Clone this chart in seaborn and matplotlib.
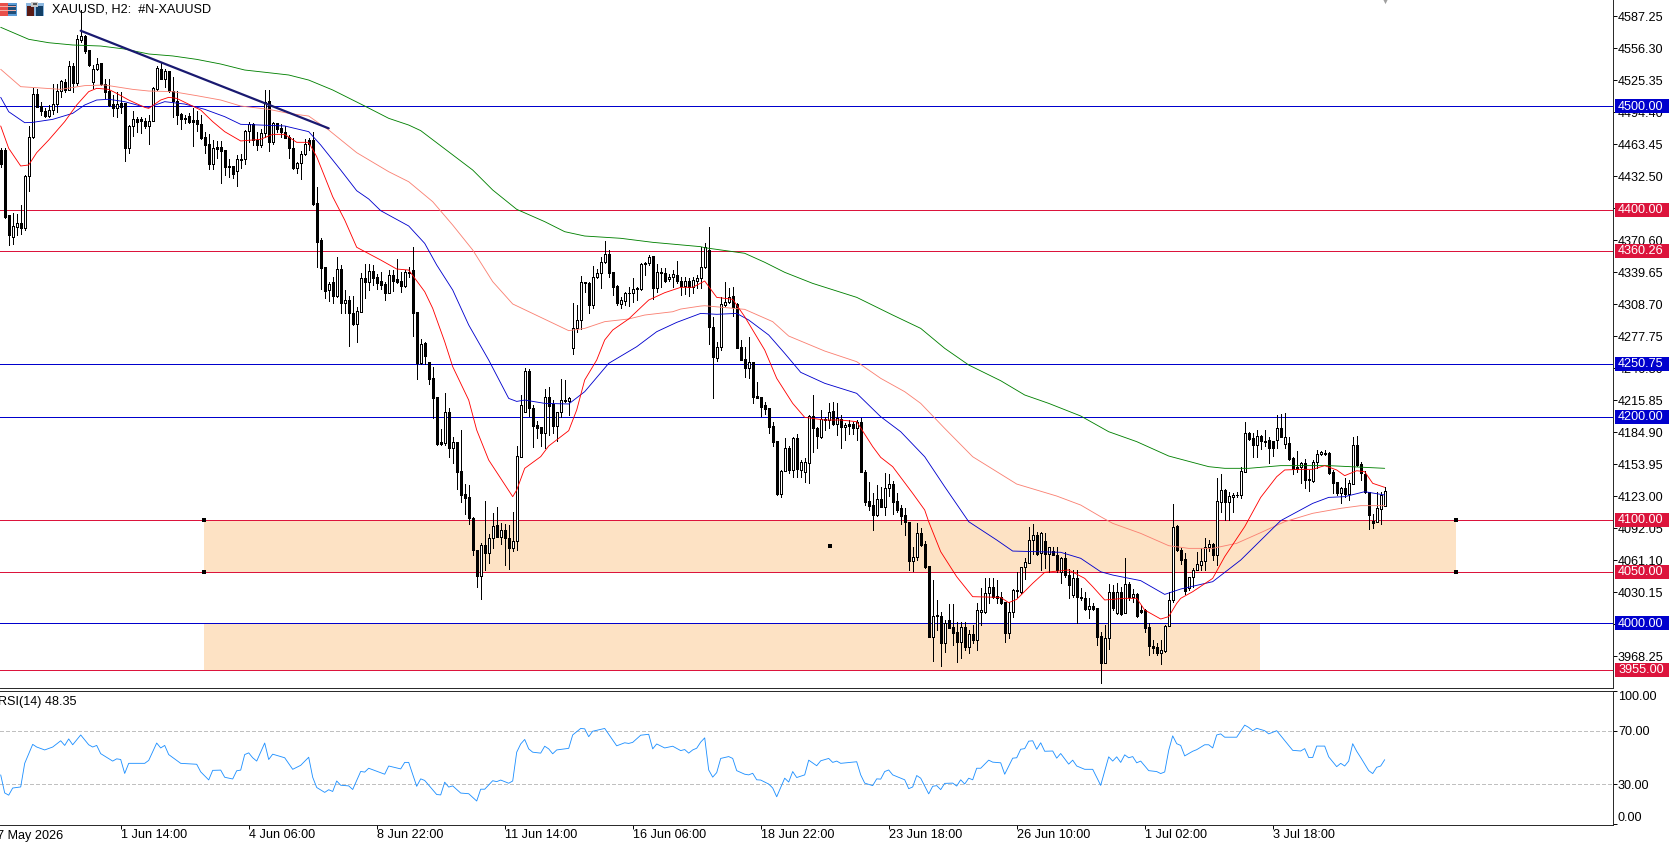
import numpy as np
import matplotlib
matplotlib.use("Agg")
import matplotlib.pyplot as plt
from matplotlib.patches import Rectangle
from matplotlib.transforms import blended_transform_factory
import seaborn as sns

# --- XAUUSD two-hour candles -------------------------------------------------
opens = [4457.8,4457.8,4394.9,4373.3,4383.6,4386.9,4382.7,4432.6,4470,4511.6,
4500.3,4495.8,4491,4496.4,4501.9,4515.1,4523.5,4515.8,4539,4522.9,
4564.1,4568,4554.5,4523.8,4535.8,4541.6,4521.6,4515.1,4502.2,4498,
4503.5,4502.9,4459.4,4481,4487.7,4487.4,4485.8,4481,4486.1,4516.4,
4535.8,4526.4,4534.1,4515.1,4505.5,4492.6,4488.4,4491,4486.8,4486.8,
4482.6,4470.7,4463.2,4443.9,4461,4461,4457.8,4442.6,4442.6,4437.8,
4449,4449,4476.1,4482.9,4467.4,4462.6,4473.9,4505.1,4465.8,4483.6,
4478.7,4474.8,4470.7,4459.4,4440.7,4444.9,4453.6,4467.4,4467.4,4406.2,
4370.7,4344.3,4322.4,4330.5,4316.9,4342.4,4310.1,4312.7,4299.8,4289.2,
4301.5,4333.7,4330.5,4340.8,4334.6,4331.1,4328.2,4319.8,4336.9,4332.7,
4331.1,4326.3,4339.2,4341.7,4301.5,4251.5,4270.8,4252.5,4237,4218.6,
4175.1,4174.1,4204.1,4169.3,4175.8,4147.4,4125.1,4121.9,4101.6,4071,
4046.2,4075.8,4067.8,4082.3,4095.2,4083.9,4090.3,4082.3,4073.3,4080,
4161.3,4204.1,4244.1,4208,4191.9,4189.6,4183.8,4219.3,4211.8,4191.2,
4204.1,4215.4,4215.4,4266.6,4285.3,4293.4,4329.8,4329.5,4307.9,4334.6,
4338.5,4349.2,4357.2,4339.5,4326.3,4308.5,4311.8,4319.2,4319.2,4324,
4323.4,4347.2,4348.8,4355.3,4324,4340.1,4338.5,4332.7,4335.3,4336.9,
4331.4,4326.6,4331.4,4325,4331.4,4333.7,4344.3,4361.1,4287,4257,
4267,4307.9,4311.1,4316.6,4308.5,4267.6,4255.4,4246.7,4252.5,4219.9,
4218.6,4211.2,4208,4190.9,4176.7,4125.2,4147.7,4170,4148.4,4179.6,
4148.4,4146.8,4155.4,4200.9,4188.6,4180.6,4196.7,4196.7,4205.4,4192.8,
4197.3,4189.6,4192.5,4192.8,4189.3,4194.4,4146.8,4118.4,4114.5,4104.8,
4120.3,4112.9,4130.6,4134.8,4118.4,4111.3,4104.8,4098.4,4060.7,4064.6,
4087.1,4076.8,4055.5,3987.2,4008.2,4007.2,3981.4,4003.3,3996.2,3991.7,
3982.4,3996.9,3976.9,3989.8,3984,4011.4,4011.4,4029.1,4035.6,4026.8,
4025.9,4021,3990.4,4011.4,4031,4030.7,4054.2,4058.8,4080.7,4085.5,
4067.8,4079.7,4066.8,4070.4,4066.2,4050.1,4063,4046.8,4027.5,4043.6,
4025.9,4024.3,4013.6,4017.2,4014.6,3987.8,3962,3986.2,4030,4009.8,
4030.7,4009.8,4038.1,4025.2,4028.1,4013,4013,3996.2,3978.5,3977.6,
3971.7,3973.7,3997.8,4022.6,4094.2,4071,4062.3,4034,4044.6,4051.7,
4056.5,4060.7,4073.6,4076.8,4066.5,4117.7,4129,4117.7,4122.6,4123.9,
4124.2,4146.8,4184.4,4179,4172.5,4181.2,4175.8,4177.4,4176.4,4177.4,
4189.3,4173.5,4174.8,4160.3,4150.9,4150.9,4154.8,4139.7,4138,4155.8,
4163.5,4164.5,4165.1,4146.8,4136.4,4125.8,4131.3,4125.2,4134.8,4172.5,
4154.2,4144.5,4127.4,4099.4,4098.4,4110.6,4113.9]

highs = [4459.4,4459.4,4394.9,4396.5,4395.9,4404.6,4433.6,4481,4517.4,4516.7,
4504.5,4498,4501.3,4521.6,4521.6,4525.4,4526.4,4543.8,4541.6,4569,
4593.1,4569,4554.5,4540,4546.4,4541.6,4526.1,4526.1,4511,4514.2,
4514.2,4502.9,4482,4495.8,4489.3,4489.3,4488.4,4491.6,4518.4,4539,
4542.5,4535.8,4534.1,4528,4515.1,4493.9,4491.6,4493.2,4498,4495.5,
4491.6,4475.5,4472.9,4467.4,4466.5,4466.8,4457.8,4448.7,4442.6,4452.9,
4453.9,4477.1,4485.2,4483.6,4475.5,4477.8,4515.8,4515.8,4485.2,4484.2,
4482.9,4481,4472.3,4469,4445.8,4457.1,4468.1,4469,4475.5,4421.7,
4372.6,4344.3,4330.5,4335.3,4354,4346.6,4322.4,4316.6,4316.6,4305.6,
4339.2,4347.2,4347.2,4346.6,4337.9,4340.1,4330.5,4341.7,4341.7,4352,
4340.1,4341.7,4344.3,4363.7,4301.5,4275,4272.4,4253.1,4248.3,4219.3,
4187.7,4222.5,4208,4180.6,4175.8,4187,4134.8,4133.9,4102.6,4071,
4078.1,4118.4,4086.5,4106.5,4112.3,4096.8,4096.2,4095.2,4108.1,4171.6,
4220.9,4246.7,4245.7,4211.2,4196.1,4190.3,4226.4,4229,4216,4204.1,
4236,4235.4,4218.6,4309.5,4307.9,4336,4330.5,4330.5,4345.6,4342.4,
4354.6,4369.8,4361.1,4339.5,4327.2,4315.9,4320.1,4325.6,4333.7,4325.6,
4348.8,4349.8,4356.2,4355.3,4347.2,4343.3,4343.3,4337.9,4341.7,4350.8,
4334.6,4334.6,4333.7,4334.6,4336.9,4364.3,4367.5,4383,4296,4272.4,
4315.3,4329.8,4324,4325,4309.5,4274,4267.6,4276.6,4253.1,4233.1,
4219.3,4214.4,4208.6,4195.1,4176.7,4148.4,4179,4171.6,4180.6,4182.8,
4158,4159.6,4201.5,4220.9,4190.3,4206.4,4199.9,4213.5,4214.4,4212.8,
4201.5,4193.5,4196.7,4195.1,4196.7,4198.3,4148.4,4137.1,4125.8,4133.9,
4132.2,4145.1,4144.5,4138,4125.8,4114.5,4111.9,4098.4,4074.2,4097.4,
4091.9,4079.7,4055.5,4042,4022.6,4011.4,4003.3,4018.8,4018.5,4001.7,
4001.7,4001.7,3993.6,3998.5,4020.1,4034,4043.6,4044.3,4043.6,4042,
4030.7,4021,4021,4033,4050.1,4054.9,4063,4093.6,4096.2,4088.7,
4088.7,4087.1,4074.2,4074.2,4074.2,4064.6,4069.4,4052.3,4051.7,4051.7,
4033.9,4030.7,4024.3,4020.1,4014.6,3992,3998.5,4038.1,4037.2,4038.8,
4035.6,4063,4040.4,4033,4029.1,4017.8,4013.6,4000.1,3984,3980.8,
3984,3998.5,4030.7,4115.5,4095.2,4072.6,4068.4,4045.2,4053.3,4069.4,
4072.6,4082.3,4080.7,4077.5,4140.3,4144.2,4129.7,4127.4,4125.8,4127.4,
4150.9,4195.1,4185.4,4183.8,4187,4182.2,4187,4180,4176.7,4201.5,
4202.2,4203.1,4180.6,4161.2,4167,4156.4,4158.7,4148.4,4158,4167.7,
4167,4167.7,4166.1,4148.4,4137.1,4132.2,4140.3,4138.7,4180.6,4181.2,
4156.4,4147.7,4127.4,4105.5,4126.8,4126.8,4132.2]

lows = [4441.6,4391.7,4365.9,4366.6,4375.6,4376.2,4380.4,4418.4,4469,4499,
4491.6,4490,4489.3,4492.6,4494.8,4509.3,4514.2,4515.8,4514.2,4520.6,
4562.5,4551.2,4539.3,4517.4,4535.1,4520.6,4507.7,4500.3,4490.6,4489.3,
4493.2,4447.5,4455.2,4471.3,4475.5,4474.5,4478.7,4463.2,4486.1,4515.8,
4526.1,4518.4,4514.2,4490,4482.9,4478.4,4483.6,4483.6,4461.9,4476.5,
4468.1,4455.2,4439.4,4439.1,4449.7,4426.2,4433.6,4432,4431,4423.3,
4440,4443.9,4465.8,4462.6,4457.8,4461,4470.7,4457.1,4463.6,4475.5,
4470,4469,4450.3,4439.1,4435.2,4429.4,4452.9,4457.8,4404.6,4345,
4323.4,4314.3,4311.8,4309.5,4316,4300.5,4299.8,4268.3,4288.6,4272.4,
4300.8,4315,4322.4,4327.2,4323,4323,4312.7,4319.2,4321.8,4328.8,
4320.8,4325.6,4334.6,4277.9,4236.3,4250.8,4250.5,4231.2,4198.3,4172.5,
4172.5,4172.5,4161.3,4155.4,4130,4117.7,4105.5,4096.2,4066.2,4035.6,
4023.6,4051.7,4058.1,4072.6,4083.9,4076.8,4056.5,4052.6,4070,4071,
4161.3,4204.1,4200.6,4170.9,4179,4171.6,4170,4182.2,4183.8,4176.4,
4199.9,4213.8,4201.5,4260.5,4281.5,4284.4,4320.1,4300.5,4304.7,4333.7,
4324.3,4348.2,4334.6,4317.6,4307.9,4305.3,4307.9,4306.9,4311.1,4312.7,
4322.4,4336.9,4346.6,4313.4,4320.8,4325.6,4330.5,4331.4,4325.6,4328.8,
4317.6,4318.5,4316.6,4319.8,4324,4324,4343.3,4269.9,4218.3,4254.1,
4264.4,4307.3,4310.1,4297.3,4266,4254.7,4238.6,4237,4213.5,4217.7,
4200.6,4202.5,4183.8,4171.6,4124.2,4121.9,4147.4,4145.1,4141.9,4141.9,
4141.9,4137.1,4136.1,4166.1,4170,4179.6,4187,4188.6,4191.9,4182.2,
4170,4177.4,4183.2,4183.2,4177.4,4146.8,4114.5,4109.7,4090.3,4103.9,
4112.3,4104.8,4123.2,4105.8,4108.1,4096.2,4085.5,4051.7,4051,4061.3,
4074.9,4053.3,3986.6,3964,3993.6,3958.8,3972.7,3995.3,3979.1,3963,
3966.3,3974.3,3971.1,3980.8,3974.3,3998.5,4010.4,4020.1,4024.3,4020.1,
4018.8,3982.4,3985.6,4006.6,4025.9,4029.8,4043,4058.1,4066.8,4066.2,
4051.7,4053.3,4050.1,4066.2,4050.1,4039.4,4045.2,4024.3,4025.9,4000.1,
4022.7,4013,4005,4013,3979.1,3942.7,3961.4,3975,4013,4009.1,
4008.1,4009.8,4022.7,4021,4005.9,4010.4,3992,3969.5,3971.1,3969.5,
3960.5,3972.7,3997.8,4021,4070,4057.1,4028.5,4032.3,4034.9,4051.7,
4051.7,4051.7,4070.3,4061.3,4056.5,4108.1,4100,4100,4108.1,4122.6,
4121,4146.8,4177.4,4160.6,4160.6,4168.3,4171.6,4155.4,4161.9,4169.3,
4179.9,4169.3,4158,4144.5,4146.8,4135.5,4130.6,4128.4,4137.1,4150,
4162.5,4162.9,4144.5,4125.8,4124.2,4116.8,4122.6,4119.4,4134.8,4152.2,
4138.7,4125.8,4091.3,4092.6,4097.8,4096.2,4113.6]

closes = [4444.2,4393.3,4375.6,4384.3,4386.9,4382.7,4432.6,4470,4511.6,4499.7,
4495.8,4491,4496.4,4501.9,4515.1,4524.5,4515.8,4539,4522.9,4564.8,
4568,4553.8,4540,4535.8,4540.9,4521.6,4514.2,4501.3,4498,4502.2,
4499,4459.4,4481,4487.4,4485.2,4486.1,4481,4486.1,4517.4,4537.4,
4526.4,4534.1,4515.1,4505.5,4491.6,4487.4,4487.4,4484.5,4484.5,4482.6,
4469.7,4462.6,4443.9,4459.4,4458.7,4457.1,4441.6,4441.6,4434.2,4448.7,
4448,4476.1,4482.6,4467.4,4462.6,4474.5,4504.5,4465.8,4483.6,4477.8,
4474.8,4469.7,4459.4,4440.7,4444.9,4453.6,4463.6,4463.6,4405.6,4369.1,
4344,4321.7,4327.9,4316.9,4342.4,4309.5,4312.7,4299.8,4289.2,4302.1,
4333.7,4330.5,4340.8,4334.3,4328.8,4327.2,4319.8,4336.9,4331.4,4330.5,
4326.3,4340.1,4340.1,4300.5,4251.5,4270.2,4258.9,4236.3,4218.3,4173.5,
4173.5,4204.1,4169.3,4175.1,4146.8,4124.2,4121.6,4101.6,4071,4046.2,
4075.8,4067.8,4082.3,4094.2,4083.9,4090.3,4082.3,4073.3,4080,4161.9,
4211.2,4244.1,4208,4190.9,4189.3,4183.8,4219.3,4210.6,4190.9,4204.1,
4216,4216,4217.7,4285.3,4293.4,4329.8,4328.8,4307.9,4334.6,4338.5,
4349.2,4356.9,4339.2,4325.6,4309.5,4312.7,4319.8,4319.8,4323.4,4323,
4347.2,4348.8,4354.6,4324,4340.1,4338.5,4331.4,4335.3,4337.6,4331.4,
4326.6,4331.4,4325.6,4332.1,4333.7,4344.3,4364.3,4286.3,4258,4267,
4308.5,4311.1,4316,4306.3,4266.6,4254.7,4246.7,4252.5,4219.3,4218.3,
4209,4207.3,4190.3,4175.8,4125.2,4147.7,4169.3,4148.4,4179.6,4149,
4156.4,4156.4,4200.9,4188.6,4181.2,4197.3,4197.7,4204.8,4192.8,4198.3,
4189.6,4191.9,4191.2,4189.3,4194.4,4146.8,4117.7,4113.9,4104.8,4120.3,
4112.9,4131.3,4134.8,4117.7,4109.7,4103.9,4098.4,4060.7,4064.6,4087.1,
4075.8,4054.2,3987.2,4007.5,4007.2,3981.4,4000.1,3995.9,3991.1,3982.4,
3996.2,3976.9,3989.8,3984,4013,4013,4029.1,4035.6,4025.9,4024.3,
4020.1,3990.4,4011.4,4032.3,4032.3,4054.2,4059.7,4080.7,4085.5,4066.8,
4087.1,4066.8,4074.2,4066.2,4051.7,4063,4046.8,4037.2,4043.6,4025.2,
4024.3,4013.6,4016.9,4013.6,3987.2,3962,3986.2,4030,4015.2,4030.7,
4009.1,4038.1,4025.2,4028.1,4007.2,4011.4,3995.3,3978.5,3976.6,3971.7,
3974.3,3997.8,4022.6,4092.9,4071,4061.3,4031.4,4044.6,4051.7,4057.5,
4060.7,4073.6,4076.8,4066.5,4118.4,4129,4117.7,4123.2,4123.9,4124.5,
4147.4,4183.8,4178.3,4172.5,4181.2,4176.7,4176.7,4170,4170,4188.6,
4179.9,4180.6,4159,4149.3,4149,4154.8,4138.7,4138.7,4156.4,4163.8,
4165.4,4163.5,4145.8,4135.5,4125.8,4131.3,4125.2,4135.5,4172.5,4153.2,
4145.1,4126.8,4104.8,4097.4,4111.3,4124.2,4128]

# --- moving averages (bar number, price) -------------------------------------
ema_fast_bar = [0,2,5,7,9,12,16,19,22,24,27,29,32,36,37,40,42,44,50,53,56,60,65,68,71,74,77,79,81,83,86,89,95,99,102,106,108,111,113,117,119,122,128,129,131,135,137,142,144,146,149,151,153,157,162,166,170,173,176,179,183,186,191,194,198,201,206,210,214,218,220,223,228,231,232,235,239,243,250,252,254,258,261,267,271,273,276,281,284,286,290,292,294,295,298,303,306,311,315,319,321,325,328,331,334,336,339,341,343,346]
ema_fast = [4481,4459.4,4442.3,4443.3,4455.2,4467.4,4485.2,4501.3,4514.2,4517.4,4516.4,4512.5,4506.1,4499,4498,4506.1,4508.7,4507.7,4496.4,4485.2,4475.5,4466.5,4468.1,4472.9,4472.9,4465.2,4465.2,4451.3,4432,4412.6,4390.1,4363.7,4351.4,4342.7,4341.7,4320.8,4304.7,4272.4,4248.3,4216,4187,4158,4122.6,4129,4150,4161.3,4171.6,4186.4,4206.4,4235.4,4254.7,4274.1,4283.7,4294.4,4312.7,4319.8,4325,4325,4331.1,4315.3,4313.4,4296.6,4264.4,4237,4212.8,4199.3,4196.7,4196.7,4195.1,4171,4160.6,4151.6,4125.8,4109.7,4098.4,4069.4,4045.2,4025.9,4025.2,4020.1,4023.3,4038.8,4049.4,4051.7,4043.6,4035.6,4022.7,4024.3,4024.3,4013,4004.3,4006.6,4019.4,4024.3,4030.7,4043.6,4064.6,4093.6,4121.9,4141.9,4148.4,4149,4149,4152.6,4148.4,4142.9,4147.7,4146.7,4135.5,4131.6]

ema_mid_bar = [0,2,6,8,13,18,21,24,27,31,35,37,41,46,51,56,60,65,71,77,80,85,89,92,95,102,106,109,113,117,122,127,129,131,136,142,146,152,159,164,169,175,179,184,187,192,196,200,206,214,220,225,231,236,242,249,253,265,270,275,278,285,291,295,303,310,320,328,332,336,341,346]
ema_mid = [4508.7,4494.8,4484.2,4484.5,4487.4,4493.2,4501.3,4506.1,4506.8,4504.5,4500.3,4499,4504.5,4502.2,4497.1,4490,4482.6,4481.9,4481,4475.5,4462.6,4438.4,4418.4,4410.4,4399.1,4384.3,4367.5,4346.6,4322.4,4288.6,4254.7,4217.6,4214.7,4216,4212.8,4212.2,4224.1,4251.5,4267.6,4282.1,4291.1,4299.8,4298.9,4299.8,4293.4,4278.9,4261.2,4242.8,4232.2,4222.5,4199.9,4185.4,4161.2,4132.2,4098.4,4080.7,4070,4068.8,4063,4050,4046.8,4041.4,4028.1,4033.3,4040.4,4061.3,4099.4,4116.1,4121.9,4122.6,4127.4,4124.2]

ema_slow_bar = [0,5,9,15,21,26,33,37,43,49,55,60,67,72,77,82,89,97,102,108,113,118,123,128,142,146,151,157,161,168,170,175,176,186,193,197,206,214,220,226,230,236,243,254,264,270,275,278,285,292,297,303,309,315,321,328,335,340,346]
ema_slow = [4535.8,4519,4518,4516.4,4520,4520.6,4516.4,4514.8,4514.2,4510.3,4506.1,4500.3,4497.1,4493.2,4490.6,4477.1,4455.2,4436.8,4427.1,4407.8,4385.2,4361.1,4330.5,4308.9,4283.1,4285.3,4291.8,4294.4,4298.2,4301.4,4304,4306.9,4307.2,4303.7,4291.8,4277.9,4263.4,4253.1,4237,4224.1,4212.8,4188.6,4161.2,4134.8,4123.2,4114.5,4103.2,4096.8,4087.1,4075.2,4072.6,4072.6,4077.5,4087.8,4098.4,4106.5,4111.3,4113.9,4113.9]

ema_long_bar = [0,7,12,18,25,31,37,43,49,55,61,67,72,77,83,91,97,102,105,118,123,129,136,141,146,155,163,175,176,186,191,196,203,214,223,230,236,242,250,256,262,270,277,284,292,302,306,312,320,332,346]
ema_long = [4576.4,4564.8,4561.5,4559.3,4558.3,4555.4,4550.6,4548.7,4545.4,4540.9,4535.1,4532.5,4530.3,4525.4,4515.8,4500.3,4488.4,4481.9,4476.5,4438.4,4419.1,4400.4,4388.5,4378.8,4374.6,4372.4,4368.5,4364.3,4363.3,4357.9,4349.2,4339.5,4328.8,4315.3,4298.2,4285.3,4266,4249.9,4234.7,4220.9,4212.8,4200.6,4185.4,4175.8,4161.9,4151.6,4150,4150,4152.6,4152.6,4150]

# --- RSI(14) -----------------------------------------------------------------
rsi_bar = [0,1,2,3,5,6,8,9,11,13,15,16,17,18,20,22,23,24,25,28,29,30,31,32,36,37,39,40,41,42,45,49,50,52,53,55,56,58,59,60,61,62,63,64,66,67,68,71,73,75,77,78,79,81,82,83,84,85,87,88,90,91,92,96,97,100,101,102,104,105,106,109,110,111,112,113,115,117,119,120,121,123,124,125,127,128,129,130,131,132,133,135,136,137,138,139,142,143,145,146,147,148,151,154,156,157,158,160,162,163,164,166,168,170,171,172,173,174,175,176,177,178,179,180,182,183,184,186,187,188,189,190,192,193,194,196,197,198,199,201,202,204,205,207,208,209,210,214,215,216,218,219,220,221,222,223,226,227,228,229,230,232,233,234,235,236,238,239,240,241,242,243,244,245,247,248,250,251,253,254,255,256,257,258,259,260,261,263,264,265,267,268,269,271,273,275,277,278,279,280,281,282,283,284,285,287,289,290,291,292,293,294,295,296,298,299,301,302,303,304,305,306,309,311,312,313,314,316,317,319,320,323,325,326,327,328,329,331,332,334,335,336,337,338,339,340,342,343,344,345,346]
rsi_values = [36.9,23.3,21.6,27,27.8,45.6,59.9,57.9,55.7,57.9,62.6,59.1,64,59.6,67,59.6,57.9,59.1,52.9,47.3,49,48.5,38,45.6,45.6,47.8,60.9,57.2,59.1,52.2,45.6,44.9,39.2,33.1,40.3,40.5,35.1,33.8,40,40.5,52.2,53.5,49.8,47.3,60.9,48.5,52.5,49.8,41.1,44.1,50.2,35.1,27.4,23.7,25.7,24.4,32.3,29.1,28.6,25.9,39.5,39,41.9,37.4,43.6,41.4,46.3,46.3,28.3,33.9,32.7,22.1,21.8,31.4,27.7,28.6,23.2,22.7,17.2,26.1,26.1,32.5,31.8,33,30.6,32.3,54,60.2,63.6,56.5,54,53.3,58.5,56.5,52.8,55.7,56.9,67,71.9,71.6,65.7,69.8,71.9,58.8,61.1,60.6,61.4,66.8,67.5,56.5,60.2,57.2,58.5,55.2,56,53.3,55.7,57,61.6,64.8,40.6,35.2,38.6,49.3,50.7,49.3,40.1,37.4,36.9,38.1,33.2,33,30,27,20.4,34.4,31.5,39.4,34.9,36.9,48,43.8,47.5,49.3,46.3,47.3,45.6,46.8,36.9,30.7,28.8,33.9,33.7,39.4,40.6,36.9,33.2,26.5,27.8,36.4,34.4,22.6,28.3,28.8,25.8,30.5,30.7,28.5,33.2,30,34.4,33.2,41.9,41.9,48,46.5,46,37.4,49.5,49.8,56.2,56.7,62.3,62.6,56.2,61.1,54.7,54.9,49.5,53,45,48,43.6,41.1,41.1,29,50.5,47.3,50.5,46.3,52,49.8,50.7,46,47.3,40.1,39.4,37.9,39.1,55.4,66.3,60.4,59.1,51.2,54.7,55.9,59.6,59.6,57.2,67,67.8,65.3,65.3,74.4,72.7,70.2,72,70.2,67.8,70.2,66.5,55.4,54.9,56.7,50,50,58.6,58.6,50.5,43.1,45.6,43.6,47.3,60.4,54.7,50,40.1,37.9,42.6,43.6,48.35]

# --- levels, zones and axis labels -------------------------------------------
level_prices = [4500.00, 4400.00, 4360.26, 4250.75, 4200.00, 4100.00, 4050.00, 4000.00, 3955.00]
level_colors = ["#0000CD", "#DC143C", "#DC143C", "#0000CD", "#0000CD", "#DC143C", "#DC143C", "#0000CD", "#DC143C"]
price_ticks = [4587.25, 4556.30, 4525.35, 4494.40, 4463.45, 4432.50, 4401.55, 4370.60, 4339.65, 4308.70,
               4277.75, 4246.80, 4215.85, 4184.90, 4153.95, 4123.00, 4092.05, 4061.10, 4030.15, 3999.20, 3968.25]
rsi_ticks = [100, 70, 30, 0]
time_ticks = [30, 62, 94, 126, 158, 190, 222, 254, 286, 318]
time_labels = ["1 Jun 14:00", "4 Jun 06:00", "8 Jun 22:00", "11 Jun 14:00", "16 Jun 06:00",
               "18 Jun 22:00", "23 Jun 18:00", "26 Jun 10:00", "1 Jul 02:00", "3 Jul 18:00"]
trend_bars = [20, 82]
trend_prices = [4573.1, 4478.7]
upper_zone = (50.8, 363.8, 4050, 4100)
lower_zone = (50.8, 314.8, 3955, 4000)

W, H = 1676, 846
LINE = 0.7  # just under one device pixel at 100 dpi, so aliased strokes stay one pixel wide
CURVE = 0.62  # indicator curves are smoothed, which reads thinner at this weight

sns.set_theme(style="white")
plt.rcParams["font.family"] = ["Liberation Sans", "DejaVu Sans"]
plt.rcParams["axes.linewidth"] = LINE

fig = plt.figure(figsize=(W / 100, H / 100), dpi=100, facecolor="white")
AX_RIGHT = 1612.5
ax = fig.add_axes([0, 1 - 688 / H, AX_RIGHT / W, 688 / H])
ax_rsi = fig.add_axes([0, 1 - 824.5 / H, AX_RIGHT / W, (824.5 - 690.5) / H])

x_range = (-0.175, 402.95)
ax.set_xlim(*x_range)
ax.set_ylim(3937.6, 4602.8)
ax_rsi.set_xlim(*x_range)
ax_rsi.set_ylim(-0.5, 100.5)

# zones behind everything
for x0, x1, lo, hi in (upper_zone, lower_zone):
    ax.add_patch(Rectangle((x0, lo), x1 - x0, hi - lo, fc="#FDE2C4", ec="none", zorder=1))

for price, color in zip(level_prices, level_colors):
    ax.axhline(price, color=color, lw=LINE, antialiased=False, zorder=2)

# candles
bars = np.arange(len(closes))
o, h, l, c = map(np.array, (opens, highs, lows, closes))
ax.vlines(bars, l, h, colors="black", lw=LINE, antialiased=False, zorder=3)
rising = c >= o
ax.bar(bars, np.abs(c - o), bottom=np.minimum(o, c), width=0.5,
       color=np.where(rising, "white", "black").tolist(), edgecolor="black",
       linewidth=LINE, antialiased=False, zorder=3.5)

# moving averages and trend line
for xs, ys, color in ((ema_slow_bar, ema_slow, "#FA8072"),
                      (ema_long_bar, ema_long, "#008000"),
                      (ema_mid_bar, ema_mid, "#0000CD"),
                      (ema_fast_bar, ema_fast, "#FF0000")):
    sns.lineplot(x=xs, y=ys, ax=ax, color=color, linewidth=CURVE,
                 estimator=None, legend=False, zorder=4)
sns.lineplot(x=trend_bars, y=trend_prices, ax=ax, color="#191970", linewidth=1.6,
             estimator=None, legend=False, zorder=5)

# zone anchor points
dot_x = [upper_zone[0], upper_zone[0], upper_zone[1], upper_zone[1], 207.3]
dot_y = [4100, 4050, 4100, 4050, 4075]
sns.scatterplot(x=dot_x, y=dot_y, ax=ax, color="black", marker="s", s=6, linewidth=0,
                legend=False, zorder=6)
# last-bar pointer at the top edge
ax.scatter([346], [4602.0], marker="v", color="#A0A0A0", s=14, linewidth=0, zorder=6, clip_on=False)

# RSI pane
for level in (70, 30):
    ax_rsi.axhline(level, color="#C0C0C0", lw=LINE, dashes=(4, 3), antialiased=False, zorder=1)
sns.lineplot(x=rsi_bar, y=rsi_values, ax=ax_rsi, color="#1E90FF", linewidth=CURVE,
             estimator=None, legend=False, zorder=3)

# frames and axis furniture
TICK_FONT = 9.1
for a in (ax, ax_rsi):
    sns.despine(ax=a, left=True, top=a is ax, right=False)
    a.set_xlabel("")
    a.set_ylabel("")
    a.yaxis.tick_right()
    a.tick_params(axis="y", which="major", right=True, direction="out", length=2.9, width=LINE,
                  pad=1.0, labelsize=TICK_FONT, colors="black")
    a.grid(False)

ax.set_xticks([])
ax.set_yticks(price_ticks)
ax.set_yticklabels([f"{v:.2f}" for v in price_ticks])

ax_rsi.set_yticks(rsi_ticks)
ax_rsi.set_yticklabels([f"{v:.2f}" for v in rsi_ticks])
tick_labels = ax_rsi.get_yticklabels()
tick_labels[0].set_verticalalignment("top")
tick_labels[-1].set_verticalalignment("bottom")

ax_rsi.set_xticks(time_ticks)
ax_rsi.set_xticklabels(time_labels, ha="left", fontsize=TICK_FONT)
ax_rsi.tick_params(axis="x", which="major", bottom=True, direction="out", length=2.6, width=LINE,
                   pad=0.8, colors="black")

# first date label belongs to a bar just left of the window
ax_rsi.annotate("27 May 2026", xy=(-10.5, -11.3), xycoords=("axes pixels", "axes pixels"),
                fontsize=TICK_FONT, ha="left", va="center", color="black", annotation_clip=False)

# price tags over the axis
tag_trans = blended_transform_factory(ax.transAxes, ax.transData)
for price, color in zip(level_prices, level_colors):
    ax.add_patch(Rectangle((1615 / AX_RIGHT, price - 6.8), 54 / AX_RIGHT, 13.6, fc=color, ec="none",
                           transform=tag_trans, clip_on=False, zorder=10))
    ax.text(1618 / AX_RIGHT, price - 0.3, f"{price:.2f}", color="white", fontsize=TICK_FONT,
            ha="left", va="center", transform=tag_trans, clip_on=False, zorder=11)

# window header
fig.text(52 / W, 1 - 9.5 / H, "XAUUSD, H2:  #N-XAUUSD", fontsize=TICK_FONT, color="black", ha="left", va="center")
fig.text(-2 / W, 1 - 702 / H, "RSI(14) 48.35", fontsize=TICK_FONT, color="black", ha="left", va="center")


def icon_block(x, y, w, h, color):
    fig.add_artist(Rectangle((x / W, 1 - (y + h) / H), w / W, h / H, fc=color, ec="none",
                             transform=fig.transFigure, antialiased=False))


icon_block(0, 3, 8, 13, "#E8504A")
icon_block(8, 3, 9, 13, "#5B9BD5")
icon_block(8, 5, 8, 9, "#1F4E79")
for row in (6, 10):
    icon_block(0, row, 16, 1, "#F4B0A8")
icon_block(26, 3, 18, 13, "#8DB8E0")
icon_block(27, 6, 7, 10, "#5A1A14")
icon_block(36, 6, 7, 10, "#123F66")
icon_block(31, 2, 7, 5, "#C8C8C8")
icon_block(33, 3, 4, 2, "#555555")

fig.savefig("out.png", dpi=100, facecolor="white")
